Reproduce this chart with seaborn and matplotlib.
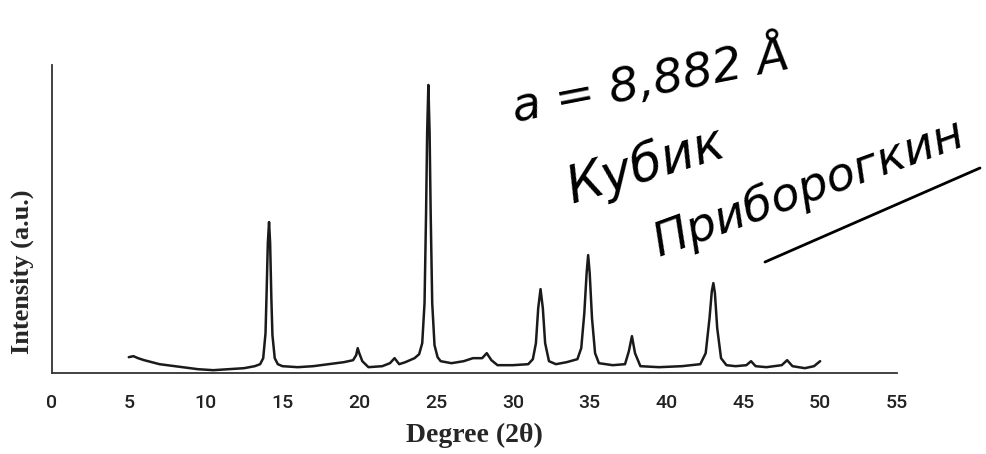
import numpy as np
import pandas as pd
import seaborn as sns
import matplotlib.pyplot as plt
from matplotlib.lines import Line2D

# XRD pattern (2-theta in degrees, intensity in a.u.)
two_theta = [5.0, 5.3, 5.6, 6.0, 6.5, 7.0, 7.5, 8.5, 9.5, 10.5, 11.5, 12.5, 13.2, 13.55,
             13.75, 13.9, 13.97, 14.05, 14.13, 14.2, 14.28, 14.35, 14.5, 14.7, 15.0,
             16.0, 17.0, 18.0, 19.0, 19.6, 19.8, 19.9, 20.0, 20.2, 20.6, 21.5, 22.0,
             22.3, 22.6, 23.0, 23.6, 23.9, 24.1, 24.25, 24.35, 24.42, 24.5, 24.58,
             24.65, 24.75, 24.9, 25.1, 25.3, 26.0, 26.8, 27.4, 28.0, 28.3, 28.6, 29.0,
             30.0, 31.0, 31.3, 31.5, 31.65, 31.8, 31.95, 32.1, 32.35, 32.8, 33.5, 34.2,
             34.45, 34.65, 34.8, 34.9, 35.0, 35.15, 35.35, 35.6, 36.5, 37.3, 37.55,
             37.75, 37.95, 38.3, 39.5, 41.0, 42.2, 42.55, 42.8, 42.95, 43.05, 43.15,
             43.3, 43.55, 43.9, 44.5, 45.2, 45.5, 45.8, 46.5, 47.5, 47.85, 48.2, 49.0,
             49.6, 50.0]
intensity = [16, 17, 15, 13, 11, 9, 8, 6, 4, 3, 4, 5, 7, 9,
             15, 40, 80, 130, 151, 130, 75, 38, 15, 9, 7,
             6, 7, 9, 11, 13, 18, 25, 20, 12, 6, 7, 10,
             15, 9, 11, 15, 19, 30, 70, 160, 240, 288, 240,
             160, 70, 28, 16, 12, 10, 12, 15, 15, 20, 13, 8,
             8, 9, 14, 30, 65, 84, 65, 30, 12, 9, 11, 14,
             25, 60, 100, 118, 100, 55, 20, 10, 8, 9, 22,
             37, 20, 7, 6, 7, 9, 20, 55, 82, 90, 80,
             45, 15, 8, 7, 8, 12, 7, 6, 8, 13, 7, 5,
             7, 12]

x_ticks = [0, 5, 10, 15, 20, 25, 30, 35, 40, 45, 50, 55]

sns.set_style('white')
plt.rcParams['font.family'] = ['DejaVu Sans']

df = pd.DataFrame({'two_theta': two_theta, 'intensity': intensity})

fig = plt.figure(figsize=(9.86, 4.54), dpi=100)
ax = fig.add_axes([0.0527, 0.178, 0.857, 0.679])
sns.lineplot(data=df, x='two_theta', y='intensity', ax=ax, color='#1a1a1a',
             linewidth=1.8, estimator=None, sort=True)

ax.set_xlim(0, 55)
ax.set_ylim(0, 308)
ax.set_xticks(x_ticks)
ax.set_yticks([])
ax.tick_params(axis='x', direction='out', length=6, width=1.2, color='#333333',
               pad=9, labelsize=14, labelcolor='#222222')
for lbl in ax.get_xticklabels():
    lbl.set_family(['Roboto', 'DejaVu Sans'])
    lbl.set_fontweight('medium')
sns.despine(ax=ax)
for s in ['left', 'bottom']:
    ax.spines[s].set_color('#333333')
    ax.spines[s].set_linewidth(1.3)

ax.set_xlabel('Degree (2θ)', fontsize=20, fontweight='bold',
              family=['Liberation Serif', 'DejaVu Serif'], labelpad=8)
ax.set_ylabel('Intensity (a.u.)', fontsize=19, fontweight='bold',
              family=['Liberation Serif', 'DejaVu Serif'])
ax.yaxis.set_label_coords(-0.021, 0.33)

# handwritten notes
fig.text(0.66, 0.82, 'a = 8,882 Å', fontsize=34, fontstyle='italic', rotation=11,
         ha='center', va='center', color='black')
fig.text(0.655, 0.635, 'Кубик', fontsize=37, fontstyle='italic', rotation=17,
         ha='center', va='center', color='black')
fig.text(0.82, 0.585, 'Приборогкин', fontsize=34, fontstyle='italic', rotation=20,
         ha='center', va='center', color='black')
fig.add_artist(Line2D([765 / 986, 980 / 986], [1 - 262 / 454, 1 - 168 / 454],
                      transform=fig.transFigure, color='black', linewidth=2))

fig.savefig('out.png', dpi=100)
